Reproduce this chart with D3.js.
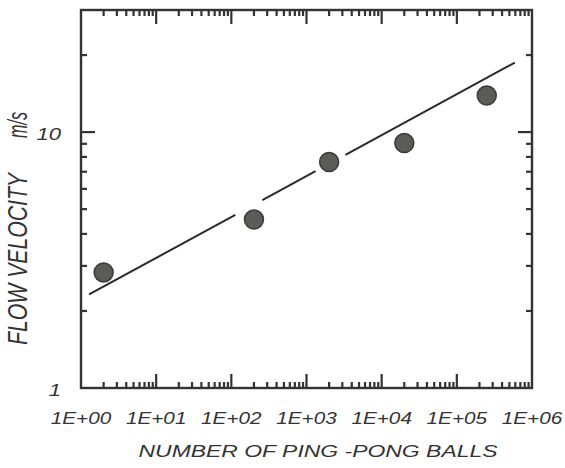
<!DOCTYPE html>
<meta charset="utf-8">
<script src="https://cdn.jsdelivr.net/npm/d3@7"></script>
<body style="margin:0;background:#fff">
<svg width="565" height="468"></svg>
</body>
<script>
    // data
    var ballCounts = [2, 200, 2000, 20000, 250000];
    var flowVelocity = [2.83, 4.55, 7.64, 9.06, 13.9];
    // fitted power law v = a * n^b, drawn in pieces (gaps next to two points)
    var fitA = 2.23, fitB = 0.16;
    var fitPieces = [[1.28, 113], [259, 1320], [3300, 590000]];
    var xTickValues = [1, 10, 100, 1000, 10000, 100000, 1000000];
    var xTickLabels = ["1E+00", "1E+01", "1E+02", "1E+03", "1E+04", "1E+05", "1E+06"];
    var yTickValues = [1, 10];
    var yTickLabels = ["1", "10"];

    var ink = "#333";
    // note: "top" is taken by window.top, so plot edges get a prefix
    var plotL = 81, plotR = 532, plotT = 10, plotB = 388;

    var svg = d3.select("svg");
    var x = d3.scaleLog().domain([1, 1e6]).range([plotL, plotR]);
    var y = d3.scaleLog().domain([1, 30]).range([plotB, plotT]);

    var isMajor = function (v) { return Math.abs(Math.log10(v) - Math.round(Math.log10(v))) < 1e-9; };

    // tick marks on all four sides, pointing inward
    var xt = x.ticks().filter(function (v) { return v > 1 && v < 1e6; });
    var yt = y.ticks().filter(function (v) { return v > 1 && v < 30; });
    var ticks = svg.append("g").attr("stroke", ink).attr("stroke-width", 2.2);
    xt.forEach(function (v) {
        var len = isMajor(v) ? 14 : 6;
        ticks.append("line").attr("x1", x(v)).attr("x2", x(v)).attr("y1", plotB).attr("y2", plotB - len);
        ticks.append("line").attr("x1", x(v)).attr("x2", x(v)).attr("y1", plotT).attr("y2", plotT + len);
    });
    yt.forEach(function (v) {
        var len = isMajor(v) ? 14 : 6;
        ticks.append("line").attr("y1", y(v)).attr("y2", y(v)).attr("x1", plotL).attr("x2", plotL + len);
        ticks.append("line").attr("y1", y(v)).attr("y2", y(v)).attr("x1", plotR).attr("x2", plotR - len);
    });

    // frame
    svg.append("rect")
        .attr("x", plotL).attr("y", plotT)
        .attr("width", plotR - plotL).attr("height", plotB - plotT)
        .attr("fill", "none").attr("stroke", ink).attr("stroke-width", 2.4);

    // fit line
    var line = d3.line().x(function (d) { return x(d); }).y(function (d) { return y(fitA * Math.pow(d, fitB)); });
    svg.append("g").selectAll("path").data(fitPieces).enter()
        .append("path")
        .attr("d", function (d) { return line(d); })
        .attr("fill", "none").attr("stroke", "#2a2a2a").attr("stroke-width", 2);

    // points
    svg.append("g").selectAll("circle").data(ballCounts).enter()
        .append("circle")
        .attr("cx", function (d) { return x(d); })
        .attr("cy", function (d, i) { return y(flowVelocity[i]); })
        .attr("r", 9.5)
        .attr("fill", "#5c5c56").attr("stroke", "#3a3a36").attr("stroke-width", 1.5);

    var font = "'Liberation Sans', Arial, Helvetica, sans-serif";

    // x tick labels
    svg.append("g").selectAll("text").data(xTickValues).enter()
        .append("text")
        .attr("transform", function (d) { return "translate(" + x(d) + ",424) scale(1.22,1)"; })
        .attr("text-anchor", "middle")
        .style("font-family", font).style("font-style", "italic").style("font-size", "17px")
        .attr("fill", ink)
        .text(function (d, i) { return xTickLabels[i]; });

    // y tick labels
    svg.append("g").selectAll("text").data(yTickValues).enter()
        .append("text")
        .attr("transform", function (d) { return "translate(61," + (y(d) + 8) + ") scale(1.3,1)"; })
        .attr("text-anchor", "end")
        .style("font-family", font).style("font-style", "italic").style("font-size", "17px")
        .attr("fill", ink)
        .text(function (d, i) { return yTickLabels[i]; });

    // axis titles
    svg.append("text")
        .attr("x", 318).attr("y", 457)
        .attr("text-anchor", "middle")
        .attr("textLength", 359).attr("lengthAdjust", "spacingAndGlyphs")
        .style("font-family", font).style("font-style", "italic").style("font-size", "17px")
        .attr("fill", ink)
        .text("NUMBER OF PING -PONG BALLS");

    svg.append("text")
        .attr("transform", "translate(27,259) scale(1.4,1) rotate(-90)")
        .attr("text-anchor", "middle")
        .attr("textLength", 172).attr("lengthAdjust", "spacingAndGlyphs")
        .style("font-family", font).style("font-style", "italic").style("font-size", "20px")
        .attr("fill", ink)
        .text("FLOW VELOCITY");

    svg.append("text")
        .attr("transform", "translate(27,125) scale(1.4,1) rotate(-90)")
        .attr("text-anchor", "middle")
        .attr("textLength", 26).attr("lengthAdjust", "spacingAndGlyphs")
        .style("font-family", font).style("font-style", "italic").style("font-size", "20px")
        .attr("fill", ink)
        .text("m/s");
</script>
